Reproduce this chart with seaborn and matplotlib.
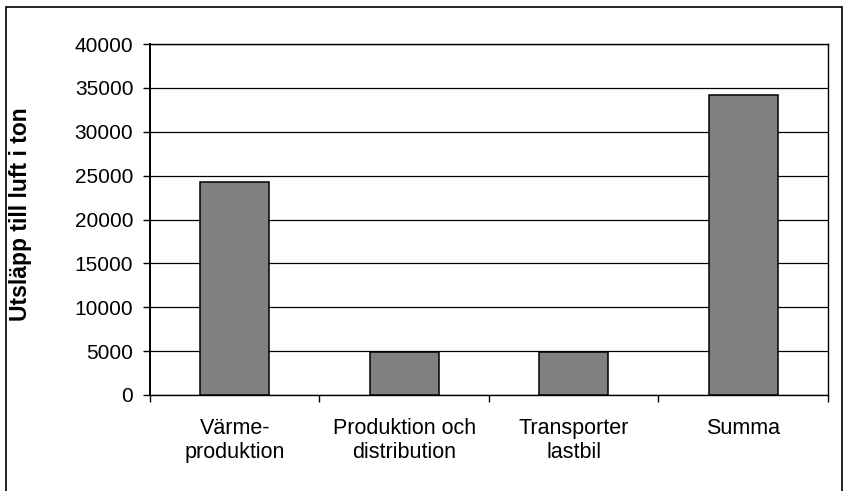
import matplotlib
matplotlib.use("Agg")
import matplotlib.pyplot as plt
from matplotlib.patches import Rectangle
import seaborn as sns
import pandas as pd

# Utsläpp till luft (ton) per led
categories = ["Värme-\nproduktion", "Produktion och\ndistribution", "Transporter\nlastbil", "Summa"]
values = [24300, 4950, 4950, 34200]
yticks = [0, 5000, 10000, 15000, 20000, 25000, 30000, 35000, 40000]

sns.set_theme(style="white")
plt.rcParams["font.family"] = ["Liberation Sans", "DejaVu Sans"]

df = pd.DataFrame({"kategori": categories, "ton": values})

fig = plt.figure(figsize=(8.45, 4.91), dpi=100)
ax = fig.add_axes([150 / 845, 1 - 395 / 491, 678 / 845, 351 / 491])

# outer chart frame
fig.patches.append(Rectangle((6 / 845, -0.1), 836 / 845, 1.1 - 7 / 491,
                             transform=fig.transFigure, fill=False,
                             edgecolor="black", linewidth=1.2, zorder=0))

sns.barplot(data=df, x="kategori", y="ton", order=categories, color="#808080",
            saturation=1, edgecolor="black", linewidth=1.1, width=0.41, ax=ax, zorder=3)

ax.set_ylim(0, 40000)
ax.set_xlim(-0.5, len(categories) - 0.5)
ax.set_yticks(yticks)
ax.set_yticklabels([str(v) for v in yticks])
ax.yaxis.grid(True, color="black", linewidth=0.9)
ax.set_axisbelow(True)

for side in ["left", "right", "top", "bottom"]:
    ax.spines[side].set_visible(True)
    ax.spines[side].set_color("black")
    ax.spines[side].set_linewidth(1.0)
ax.spines["left"].set_linewidth(1.4)

# category labels centred, tick marks between categories
ax.set_xticks(range(len(categories)))
ax.set_xticklabels(categories, fontsize=15.5, linespacing=1.2)
ax.set_xticks([i - 0.5 for i in range(len(categories) + 1)], minor=True)
ax.tick_params(axis="x", which="major", length=0, pad=16.5, colors="black")
ax.tick_params(axis="x", which="minor", bottom=True, length=5, width=1.0, color="black")
ax.tick_params(axis="y", which="major", left=True, length=5, width=1.0, pad=7,
               labelsize=15, colors="black")

ax.set_xlabel("")
ax.set_ylabel("Utsläpp till luft i ton", fontsize=16.5, fontweight="bold", color="black")
ax.yaxis.set_label_coords(-0.174, 0.516)

fig.savefig("out.png", dpi=100)
